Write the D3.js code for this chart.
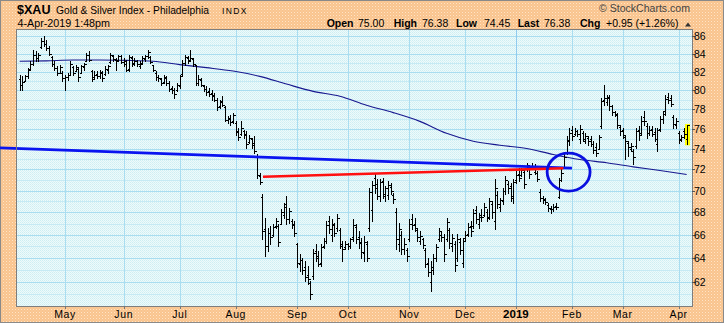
<!DOCTYPE html>
<html><head><meta charset="utf-8">
<script src="https://cdn.jsdelivr.net/npm/d3@7"></script>
<style>
html,body{margin:0;padding:0;background:#fff;}
svg{display:block;}
text{font-family:"Liberation Sans",Arial,sans-serif;}
</style></head><body>
<svg id="c" width="724" height="323"></svg>
<script>
// ---- DATA (daily bars, 6-Apr-2018 .. 4-Apr-2019) ----
const openV = [
81.2,80.6,81.0,81.5,82.3,82.9,83.9,83.5,84.7,85.4,
85.1,84.6,83.6,82.8,82.4,81.9,81.9,81.3,81.4,81.7,
82.5,82.1,82.3,81.9,82.5,83.2,83.8,82.1,81.4,81.8,
81.5,81.9,81.8,82.2,83.1,83.7,83.3,83.3,83.7,83.1,
83.2,82.3,83.5,82.9,83.2,82.6,83.0,83.4,83.7,83.6,
82.7,81.9,81.4,81.2,80.9,81.3,80.8,80.2,80.0,80.0,
80.5,81.8,83.0,83.5,83.3,83.4,82.7,80.8,81.1,80.5,
80.1,79.9,79.7,79.5,79.0,78.3,78.9,78.2,76.9,77.1,
76.8,76.6,75.8,75.5,75.8,75.4,74.7,75.0,74.6,73.3,
71.4,69.4,66.5,65.0,66.2,66.0,66.8,66.8,67.0,67.8,
68.8,67.4,67.2,67.0,65.2,63.5,63.8,63.2,62.6,61.9,
62.5,64.6,64.2,63.6,65.0,65.5,67.2,66.0,66.9,66.6,
66.4,65.0,64.9,65.2,65.0,65.8,66.7,65.8,65.4,64.4,
65.2,66.6,68.2,71.2,70.6,69.5,70.9,69.5,69.6,70.3,
69.6,68.0,65.2,66.0,64.8,64.7,65.6,67.4,67.0,66.4,
65.5,65.6,64.7,63.6,62.0,63.0,64.0,65.6,66.0,65.8,
65.6,66.4,65.0,65.2,64.0,65.4,63.6,65.7,66.1,66.8,
66.8,68.2,67.0,67.8,67.8,68.0,67.6,68.8,67.2,69.6,
68.5,69.0,70.0,70.6,70.4,69.3,71.0,71.6,71.5,71.8,
72.0,72.1,72.2,71.8,71.7,69.9,69.3,69.2,68.7,68.3,
68.3,68.6,69.4,71.0,72.2,73.6,74.8,75.9,75.5,75.8,
75.0,75.6,74.8,75.1,75.0,74.5,74.2,74.0,76.3,79.0,
78.8,79.2,78.3,77.7,77.4,76.2,75.9,75.2,74.6,74.0,
73.8,74.3,75.9,75.6,77.2,76.3,75.6,76.0,75.7,74.5,
76.0,77.0,77.8,79.3,79.2,77.2,76.4,75.6,75.0,75.8,
75.00];
const highV = [
81.68,81.50,81.68,82.41,83.15,84.41,84.26,84.08,85.77,85.96,
85.58,84.83,83.70,83.15,82.60,82.78,82.05,81.68,81.86,83.15,
82.60,82.78,82.41,82.78,82.96,84.08,84.26,82.23,82.05,82.05,
82.23,82.05,82.60,82.78,84.08,83.89,83.52,83.89,83.89,83.52,
83.33,83.89,83.70,83.52,83.33,83.15,83.70,83.89,84.45,83.70,
82.78,82.05,81.68,81.32,81.68,81.50,80.96,80.42,80.25,80.78,
81.68,83.33,83.89,83.70,84.45,83.52,82.78,81.68,81.32,80.60,
80.42,80.25,80.07,79.72,79.19,79.02,79.37,78.32,77.28,77.46,
77.63,76.76,76.09,76.76,75.92,75.75,75.42,75.09,75.25,73.45,
71.68,69.65,67.52,66.63,66.78,66.93,67.52,66.93,68.27,68.88,
69.50,68.43,67.37,67.22,65.32,64.32,64.03,63.75,63.33,62.08,
64.75,65.17,64.60,65.17,65.75,67.22,67.67,67.37,67.07,67.82,
66.63,65.46,65.46,65.32,65.75,67.37,66.93,66.34,65.75,65.90,
65.46,70.27,70.89,71.52,71.05,71.05,71.21,70.43,70.89,70.74,
69.81,68.43,67.07,66.34,65.75,64.89,67.37,67.82,67.52,66.63,
66.34,65.75,64.89,64.03,63.75,64.32,65.17,66.63,66.34,66.04,
67.52,66.63,66.04,65.46,66.04,65.75,65.75,66.34,67.07,67.22,
68.27,68.58,67.97,68.27,68.88,68.27,69.34,69.04,71.05,69.96,
69.34,70.27,71.37,70.89,70.74,71.05,71.84,72.16,72.16,72.00,
72.64,72.32,72.64,72.48,71.84,70.12,69.50,69.34,68.88,68.58,
68.73,68.88,71.21,72.00,73.45,75.25,76.09,76.26,76.09,75.92,
76.43,75.75,75.59,75.25,75.25,74.76,74.59,75.42,79.19,80.53,
79.54,79.54,78.49,77.80,77.63,76.43,76.09,75.42,74.76,74.59,
73.94,76.09,76.26,77.28,77.80,76.60,76.26,76.26,76.09,76.09,
77.28,77.80,79.54,79.72,79.54,77.46,77.11,75.75,75.42,76.09,
76.38];
const lowV = [
80.06,80.07,80.96,81.32,82.23,82.78,83.15,83.15,84.64,84.83,
84.45,83.89,82.60,82.23,81.68,81.86,80.96,80.07,81.14,81.68,
81.68,82.05,80.96,81.86,82.23,83.15,83.15,80.96,81.32,81.32,
81.32,80.96,81.68,81.86,82.96,83.15,82.23,83.15,82.96,82.60,
82.05,82.05,82.60,82.78,82.60,82.41,82.96,83.15,83.52,82.96,
82.05,81.14,80.96,80.60,80.78,80.60,79.89,79.72,79.19,79.89,
80.25,81.68,82.78,82.96,83.15,82.60,80.60,80.60,80.42,79.89,
79.54,79.37,79.02,78.84,77.97,78.15,78.32,76.76,76.60,76.43,
76.60,75.42,74.92,75.42,75.09,74.10,74.59,74.10,73.61,71.21,
70.58,65.61,64.18,64.60,65.17,65.90,66.63,65.03,66.93,67.52,
66.93,67.07,66.63,65.90,63.19,62.91,62.64,62.08,61.81,60.60,
62.22,63.75,63.33,63.33,64.89,65.32,66.19,65.46,65.90,66.34,
64.89,63.75,64.75,64.75,64.89,65.46,65.32,64.89,64.03,63.75,
63.75,66.34,67.22,69.81,69.19,69.04,69.34,69.04,69.19,69.65,
68.88,64.75,64.60,64.32,64.32,63.75,65.46,66.48,66.34,65.46,
65.17,64.89,63.19,62.50,61.27,62.64,63.75,65.46,65.46,63.75,
65.46,64.89,64.60,62.91,63.75,64.32,63.19,65.46,65.90,65.90,
66.63,67.07,66.63,67.22,67.67,67.22,67.37,67.52,66.48,68.43,
68.12,68.73,69.65,69.81,69.04,68.88,70.74,70.89,71.37,70.27,
71.84,71.21,72.00,71.52,70.89,69.04,68.88,68.73,68.12,67.97,
68.12,68.27,69.34,70.89,72.16,73.45,74.43,74.92,75.42,75.25,
74.59,74.76,74.59,74.43,74.26,73.61,73.28,73.94,76.09,78.49,
78.49,77.97,77.46,77.28,76.09,75.42,75.09,72.96,73.28,73.77,
72.48,74.10,74.92,75.42,76.43,75.09,75.42,75.25,74.76,73.77,
75.75,76.60,77.46,78.67,78.32,76.09,76.09,74.59,74.76,75.09,
74.45];
const closeV = [
80.6,80.9,81.5,82.2,82.9,83.9,83.5,83.9,85.4,85.1,
84.6,84.0,82.8,82.4,81.9,82.5,81.3,81.4,81.7,82.8,
81.9,82.5,81.4,82.6,82.8,83.8,83.3,81.2,81.6,81.5,
82.0,81.3,82.3,82.6,83.8,83.4,83.2,83.7,83.1,82.8,
82.2,83.6,83.0,83.2,82.8,82.9,83.5,83.7,84.2,83.1,
82.2,81.4,81.3,80.8,81.4,80.8,80.1,80.0,79.6,80.6,
81.5,83.0,83.6,83.2,83.5,82.8,80.8,81.2,80.6,80.1,
79.8,79.6,79.4,79.0,78.2,78.8,78.5,76.9,77.0,76.7,
77.4,75.7,75.2,76.1,75.5,74.5,75.1,74.4,73.8,71.5,
70.8,66.3,65.0,66.2,65.8,66.7,67.2,65.4,68.0,68.5,
67.4,68.1,66.9,66.2,63.6,63.8,63.0,62.4,62.2,61.0,
64.4,64.0,63.5,64.9,65.5,66.9,66.5,67.0,66.2,67.5,
65.2,64.8,65.2,65.0,65.6,66.9,65.6,65.3,64.5,65.4,
64.0,69.9,70.5,70.2,69.5,70.8,69.7,70.2,70.5,70.0,
69.2,65.6,66.5,64.8,65.2,64.2,67.0,66.9,66.6,65.8,
65.9,65.1,63.5,62.8,63.2,64.0,64.9,66.3,65.8,64.3,
67.1,65.3,65.7,63.4,65.6,64.7,65.5,66.0,66.7,66.3,
67.9,67.4,67.6,67.6,68.5,67.5,69.0,68.0,70.2,68.8,
69.1,70.0,71.0,70.2,69.5,70.8,71.5,71.2,71.9,70.6,
72.4,71.6,72.3,72.2,71.1,69.3,69.1,68.9,68.4,68.3,
68.5,68.5,71.0,71.7,73.2,74.9,75.6,75.3,75.8,75.5,
76.0,75.0,75.3,74.8,74.5,73.9,73.6,75.2,78.9,79.2,
79.3,78.3,77.7,77.5,76.4,75.8,75.4,74.8,74.2,74.3,
73.2,75.8,75.4,76.8,76.8,75.6,75.9,75.5,75.0,75.9,
77.0,77.5,79.1,79.0,78.6,76.5,76.8,74.9,75.2,75.43,
76.38];

// 200-day moving average, read at every 10th bar
const maIdx = [0,10,20,30,40,50,60,70,80,90,100,110,120,130,140,150,160,170,180,190,200,210,220,230,240,250];
const maVal = [83.15,83.2,83.3,83.3,83.25,83.15,82.78,82.45,82.08,81.5,80.67,79.89,79.37,78.42,77.66,76.76,75.55,74.76,74.36,74.04,73.45,72.96,72.64,72.25,71.90,71.52];

// axis labels
const monthLabels = ["May","Jun","Jul","Aug","Sep","Oct","Nov","Dec","2019","Feb","Mar","Apr"];
const monthStartIdx = [17,39,60,81,104,123,146,167,186,207,226,247];
const priceTicks = [62,64,66,68,70,72,74,76,78,80,82,84,86];

// annotations (bar index, price)
const blueTrendIdx = [-7.4, 207];
const blueTrendVal = [74.1, 72.13];
const redTrendIdx = [91.2, 203.8];
const redTrendVal = [71.31, 72.11];
const ellipseIdx = [197.7, 213.8];
const ellipseVal = [73.59, 69.96];

// header
const headerItems = [
  ["Open",326.7,true],["75.00",358,false],
  ["High",393.7,true],["76.38",422,false],
  ["Low",456,true],["74.45",484,false],
  ["Last",517.7,true],["76.38",544,false],
  ["Chg",580,true],["+0.95 (+1.26%)",606,false]
];

// ---- DRAW ----
const W=724,H=323, L=17,R=692,T=30,B=306;
const svg=d3.select("#c");
const defs=svg.append("defs");
const po=defs.append("pattern").attr("id","po").attr("width",3).attr("height",3).attr("patternUnits","userSpaceOnUse");
po.append("rect").attr("width",3).attr("height",3).attr("fill","#F9C48E");
po.append("rect").attr("x",0).attr("y",0).attr("width",1).attr("height",1).attr("fill","#FFE4C6");
po.append("rect").attr("x",1.5).attr("y",1.5).attr("width",1).attr("height",1).attr("fill","#FDD6AC");
const pc=defs.append("pattern").attr("id","pc").attr("width",2).attr("height",2).attr("patternUnits","userSpaceOnUse");
pc.append("rect").attr("width",2).attr("height",2).attr("fill","#EEFAFB");
pc.append("rect").attr("x",0).attr("y",0).attr("width",1).attr("height",1).attr("fill","#CDEEF2");
pc.append("rect").attr("x",1).attr("y",1).attr("width",1).attr("height",1).attr("fill","#D8F2F5");
defs.append("clipPath").attr("id","clip").append("rect").attr("x",L).attr("y",T).attr("width",R-L).attr("height",B-T);

svg.append("rect").attr("width",W).attr("height",H).attr("fill","url(#po)");
svg.append("rect").attr("x",0.5).attr("y",0.5).attr("width",W-1).attr("height",H-1).attr("fill","none").attr("stroke","#8a8a8a");
svg.append("rect").attr("x",L).attr("y",T).attr("width",R-L).attr("height",B-T).attr("fill","url(#pc)");

const x=d3.scaleLinear().domain([-1,252]).range([L,R]);
const y=d3.scaleLog().domain([60.03,86.69]).range([B,T]);

// grid
const g=svg.append("g").attr("clip-path","url(#clip)");
const minorTicks=d3.range(61,87,1);
g.selectAll("line.h").data(minorTicks).join("line")
  .attr("x1",L).attr("x2",R)
  .attr("y1",d=>Math.round(y(d))+0.5).attr("y2",d=>Math.round(y(d))+0.5)
  .attr("stroke",d=>d%2===0?"#A9DDF0":"#C6EAF4").attr("stroke-width",1);
g.selectAll("line.v").data(monthStartIdx).join("line")
  .attr("y1",T).attr("y2",B)
  .attr("x1",d=>Math.round(x(d))+0.5).attr("x2",d=>Math.round(x(d))+0.5)
  .attr("stroke",(d,i)=>monthLabels[i]==="2019"?"#8FCBEF":"#A9DDF0");

// MA
const maData=maIdx.map((d,i)=>[d,maVal[i]]);
g.append("path").datum(maData)
  .attr("d",d3.line().x(d=>x(d[0])).y(d=>y(d[1])).curve(d3.curveMonotoneX))
  .attr("fill","none").attr("stroke","#18188f").attr("stroke-width",1.1);

// last bar highlight
const li=closeV.length-1;
g.append("rect").attr("x",Math.round(x(li))-2).attr("y",y(highV[li])-1)
  .attr("width",5).attr("height",y(lowV[li])-y(highV[li])+2).attr("fill","#FFFF00");

// bars
const bars=g.append("g").attr("stroke","#000").attr("stroke-width",1).attr("shape-rendering","crispEdges");
closeV.forEach((c,i)=>{
  const xx=Math.round(x(i))+0.5;
  bars.append("line").attr("x1",xx).attr("x2",xx).attr("y1",Math.round(y(highV[i]))).attr("y2",Math.round(y(lowV[i]))+1);
  bars.append("line").attr("x1",xx-2).attr("x2",xx).attr("y1",Math.round(y(openV[i]))+0.5).attr("y2",Math.round(y(openV[i]))+0.5);
  bars.append("line").attr("x1",xx).attr("x2",xx+2).attr("y1",Math.round(y(c))+0.5).attr("y2",Math.round(y(c))+0.5);
});

// annotations
svg.append("line").attr("x1",x(blueTrendIdx[0])).attr("y1",y(blueTrendVal[0]))
  .attr("x2",x(blueTrendIdx[1])).attr("y2",y(blueTrendVal[1]))
  .attr("stroke","#0A14F0").attr("stroke-width",2.6);
svg.append("line").attr("x1",x(redTrendIdx[0])).attr("y1",y(redTrendVal[0]))
  .attr("x2",x(redTrendIdx[1])).attr("y2",y(redTrendVal[1]))
  .attr("stroke","#FF1010").attr("stroke-width",2.6);
const ex0=x(ellipseIdx[0]),ex1=x(ellipseIdx[1]),ey0=y(ellipseVal[0]),ey1=y(ellipseVal[1]);
svg.append("ellipse").attr("cx",(ex0+ex1)/2).attr("cy",(ey0+ey1)/2)
  .attr("rx",(ex1-ex0)/2).attr("ry",(ey1-ey0)/2)
  .attr("fill","none").attr("stroke","#0A10E0").attr("stroke-width",2.8);

// plot border
svg.append("rect").attr("x",L-0.5).attr("y",T-0.5).attr("width",R-L+1).attr("height",B-T+1)
  .attr("fill","none").attr("stroke","#7d7d7d");

// y axis (right)
const ya=svg.append("g");
priceTicks.forEach(v=>{
  const yy=Math.round(y(v))+0.5;
  ya.append("line").attr("x1",R).attr("x2",R+3).attr("y1",yy).attr("y2",yy).attr("stroke","#555");
  ya.append("text").attr("x",R+2).attr("y",y(v)+4).attr("font-size","10.5px").attr("fill","#000").text(v);
});

// x axis labels
monthLabels.forEach((m,i)=>{
  const xx=x(monthStartIdx[i]);
  svg.append("line").attr("x1",Math.round(xx)+0.5).attr("x2",Math.round(xx)+0.5).attr("y1",B).attr("y2",B+3).attr("stroke","#777");
  svg.append("text").attr("x",xx).attr("y",318).attr("text-anchor","middle")
    .attr("font-size",m==="2019"?"11.5px":"10.5px").attr("font-weight",m==="2019"?"bold":"normal")
    .attr("letter-spacing",m==="2019"?"0":"0.6px").attr("fill","#000").text(m);
});

// header
svg.append("text").attr("x",17).attr("y",14).attr("font-size","13px").attr("font-weight","bold")
  .attr("textLength",33.5).attr("lengthAdjust","spacingAndGlyphs").text("$XAU");
svg.append("text").attr("x",56).attr("y",14).attr("font-size","10.5px")
  .attr("textLength",153).attr("lengthAdjust","spacingAndGlyphs").text("Gold & Silver Index - Philadelphia");
svg.append("text").attr("x",222).attr("y",13.5).attr("font-size","8.5px")
  .attr("textLength",24.5).attr("lengthAdjust","spacing").text("INDX");
svg.append("text").attr("x",17.5).attr("y",27).attr("font-size","10.5px")
  .attr("textLength",92.5).attr("lengthAdjust","spacingAndGlyphs").text("4-Apr-2019 1:48pm");
headerItems.forEach(([t,xx,b])=>{
  svg.append("text").attr("x",xx).attr("y",27).attr("font-size","10.5px")
    .attr("font-weight",b?"bold":"normal").text(t);
});
svg.append("path").attr("d","M685,26.5 L688,22.5 L691,26.5 Z").attr("fill","#333");
svg.append("text").attr("x",599).attr("y",11.5).attr("font-size","10px").attr("fill","#444")
  .attr("textLength",91).attr("lengthAdjust","spacingAndGlyphs").text("© StockCharts.com");
</script>
</body></html>
